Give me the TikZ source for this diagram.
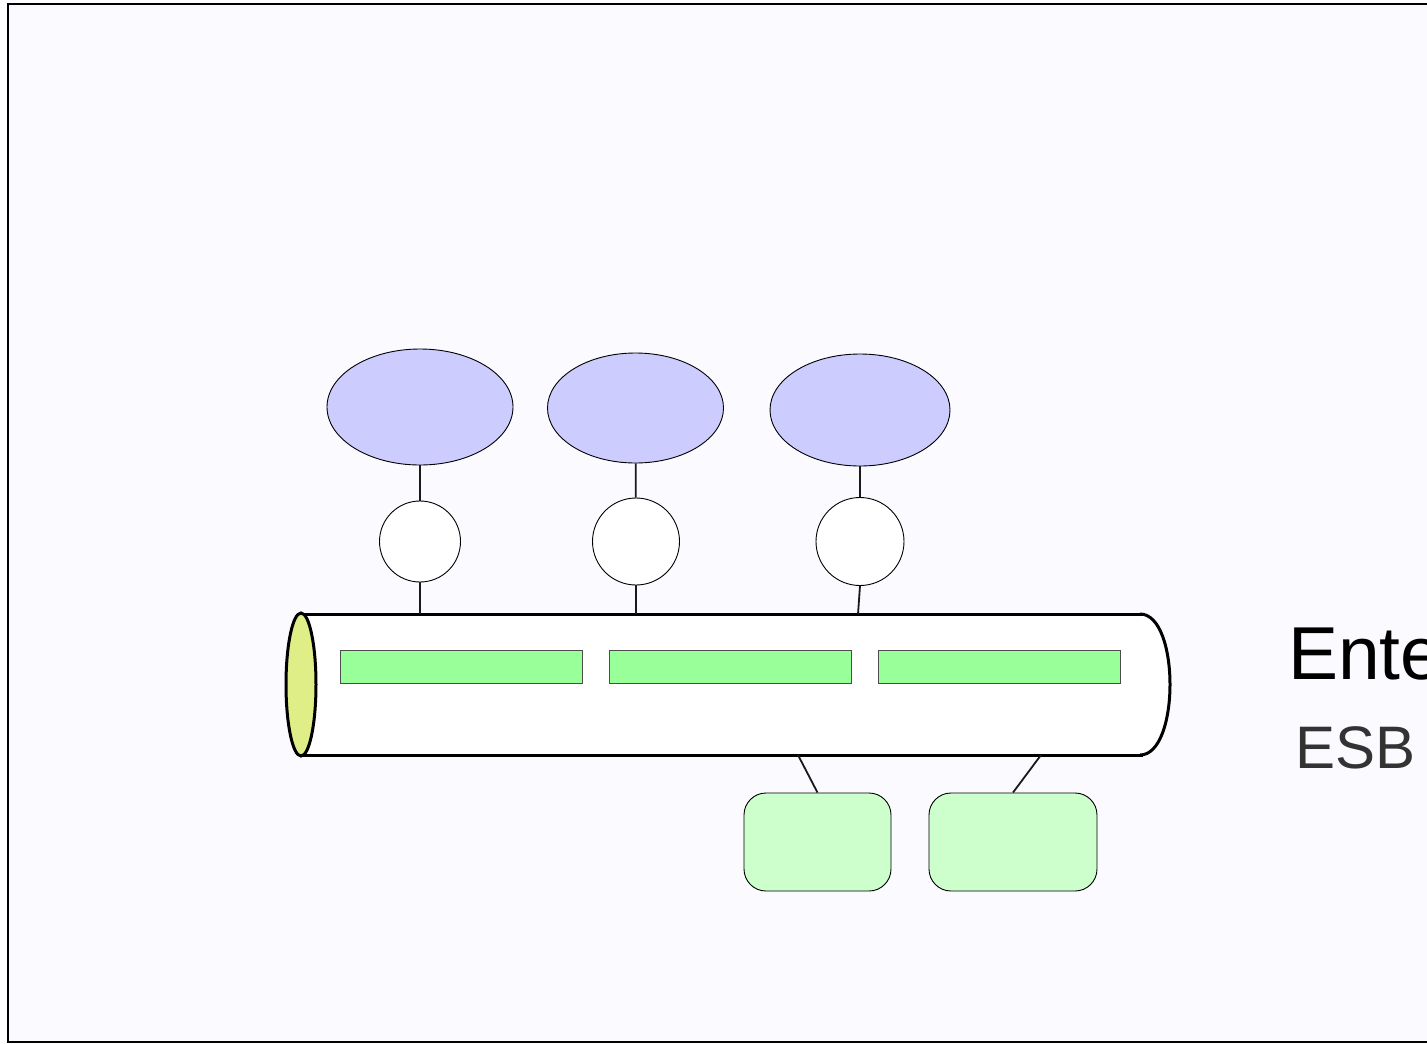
\documentclass[tikz,border=0pt]{standalone}
\usepackage{fontspec}
\setmainfont{Liberation Sans}
\usetikzlibrary{shapes.geometric}
\definecolor{bgc}{RGB}{250,250,255}
\definecolor{svc}{RGB}{204,204,255}
\definecolor{bar}{RGB}{153,255,153}
\definecolor{app}{RGB}{204,255,204}
\definecolor{capc}{RGB}{224,238,136}
\definecolor{esbc}{RGB}{51,51,51}
\tikzset{
  svcnode/.style={ellipse, draw=black, line width=0.9pt, fill=svc, inner sep=0pt},
  adapter/.style={circle, draw=black, line width=0.9pt, fill=white, inner sep=0pt},
  barnode/.style={rectangle, draw=black!70, line width=0.8pt, fill=bar, inner sep=0pt, minimum width=242pt, minimum height=33pt},
  appnode/.style={rectangle, rounded corners=22pt, draw=black, line width=0.9pt, fill=app, inner sep=0pt, minimum height=98pt},
  link/.style={draw=black!90, line width=1.8pt},
  busline/.style={draw=black, line width=3pt},
}
\begin{document}
\begin{tikzpicture}[x=1pt,y=-1pt]
\useasboundingbox (0,0) rectangle (1427,1044);
\clip (0,0) rectangle (1427,1044);
% frame
\draw[fill=bgc, line width=2.2pt] (8,4) rectangle (1460,1042);
% bus body
\fill[white] (301,614) rectangle (1143,755);
\fill[white] (1140,614) .. controls (1180,614) and (1180,755) .. (1140,755) -- cycle;
\draw[busline] (301,614) -- (1143,614);
\draw[busline] (301,755) -- (1143,755);
\draw[busline] (1140,614) .. controls (1180,614) and (1180,755) .. (1140,755);
\node[ellipse, draw=black, line width=3pt, fill=capc, minimum width=30pt, minimum height=143pt, inner sep=0pt] (cap) at (301,684.5) {};
% bars
\node[barnode] (m1) at (461,666.5) {};
\node[barnode] (m2) at (730,666.5) {};
\node[barnode] (m3) at (999,666.5) {};
% services
\node[svcnode, minimum width=186pt, minimum height=116pt] (e1) at (420,407) {};
\node[svcnode, minimum width=176pt, minimum height=110pt] (e2) at (635.5,408) {};
\node[svcnode, minimum width=180pt, minimum height=112pt] (e3) at (860,410) {};
% adapters
\node[adapter, minimum size=81pt] (c1) at (420,541.5) {};
\node[adapter, minimum size=87pt] (c2) at (636,541.5) {};
\node[adapter, minimum size=88pt] (c3) at (860,541.5) {};
% bus attach points
\coordinate (t1) at (420,614);
\coordinate (t2) at (636,614);
\coordinate (t3) at (858,614);
\coordinate (b1) at (798,755);
\coordinate (b2) at (1041,755);
% apps
\node[appnode, minimum width=147pt] (r1) at (817.5,842) {};
\node[appnode, minimum width=168pt] (r2) at (1013,842) {};
% connectors
\draw[link] (e1) -- (c1);
\draw[link] (e2) -- (c2);
\draw[link] (e3) -- (c3);
\draw[link] (c1.south) -- (t1);
\draw[link] (c2.south) -- (t2);
\draw[link] (c3.south) -- (t3);
\draw[link] (b1) -- (r1.north);
\draw[link] (b2) -- (r2.north);
% texts
\node[anchor=base west, inner sep=0pt, font=\fontsize{75}{90}\selectfont] (title) at (1288,679) {Ente};
\node[anchor=base west, inner sep=0pt, text=esbc, font=\fontsize{60}{72}\selectfont] (esb) at (1295,768) {ESB};
\end{tikzpicture}
\end{document}
